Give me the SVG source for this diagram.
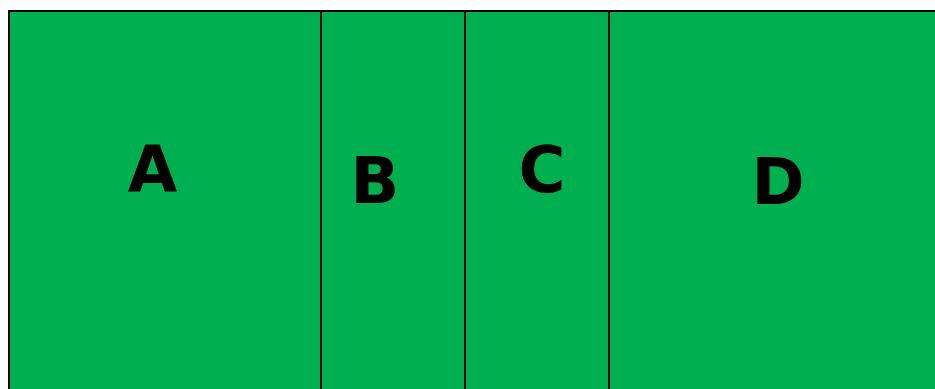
<svg xmlns="http://www.w3.org/2000/svg" width="935" height="389" viewBox="0 0 935 389">
<style>
.cell{fill:#00B050;stroke:#000;stroke-width:2}
.lbl{font-family:"DejaVu Sans",sans-serif;font-weight:bold;font-size:64px;fill:#000;text-anchor:middle}
</style>
<rect width="935" height="389" fill="#fff"/>
<g id="A"><rect class="cell" x="9" y="11" width="312" height="400"/><text class="lbl" x="152.5" y="192">A</text></g>
<g id="B"><rect class="cell" x="321" y="11" width="144" height="400"/><text class="lbl" x="375" y="203">B</text></g>
<g id="C"><rect class="cell" x="465" y="11" width="144" height="400"/><text class="lbl" x="542" y="192">C</text></g>
<g id="D"><rect class="cell" x="609" y="11" width="340" height="400"/><text class="lbl" x="778" y="204">D</text></g>
<g id="connectors"></g>
</svg>
